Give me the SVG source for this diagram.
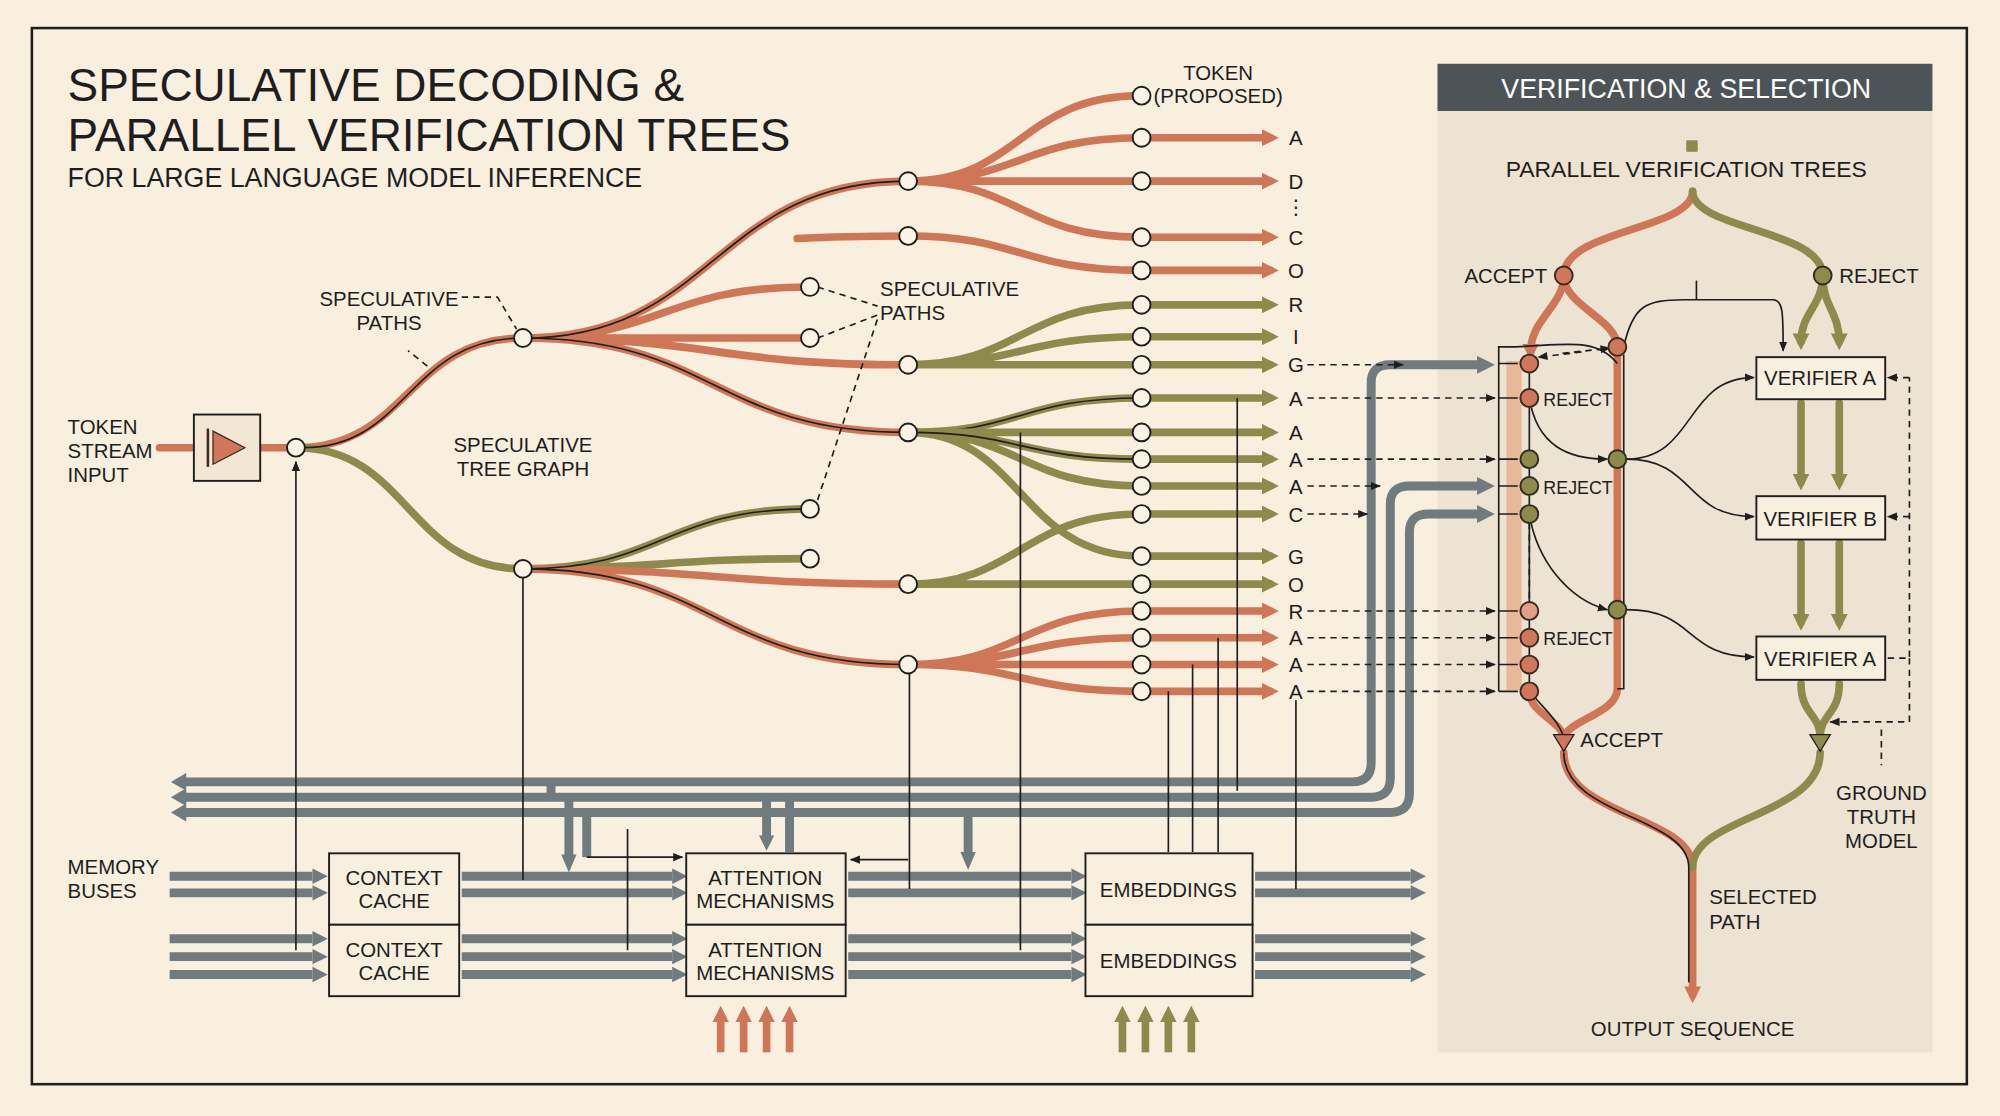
<svg xmlns="http://www.w3.org/2000/svg" width="2000" height="1116" viewBox="0 0 2000 1116">
<defs>
<style>
text{font-family:"Liberation Sans","DejaVu Sans",sans-serif;fill:#1e1e1e}
.t{font-size:16px}
.o{fill:none;stroke:#cf7657;stroke-width:6;stroke-linecap:round}
.g{fill:none;stroke:#8e8a4c;stroke-width:6;stroke-linecap:round}
.k{fill:none;stroke:#1e1e1e;stroke-width:1.3}
.d{fill:none;stroke:#1e1e1e;stroke-width:1.3;stroke-dasharray:5 4}
.b{fill:none;stroke:#6f7b7f;stroke-width:7}
.n{fill:#fbf4e6;stroke:#1e1e1e;stroke-width:1.5}
.no{fill:#d0765a;stroke:#3a2a20;stroke-width:1.5}
.ng{fill:#8e8a4c;stroke:#2e2e20;stroke-width:1.5}
.box{fill:#f8efdf;stroke:#1e1e1e;stroke-width:1.5}
.mo{marker-end:url(#ao)}
.mg{marker-end:url(#ag)}
.mk{marker-end:url(#ak)}
</style>
<marker id="ao" viewBox="0 0 10 10" refX="5" refY="5" markerWidth="2.2" markerHeight="2.2" orient="auto"><path d="M0,0L10,5L0,10z" fill="#cf7657"/></marker>
<marker id="ag" viewBox="0 0 10 10" refX="5" refY="5" markerWidth="2.2" markerHeight="2.2" orient="auto"><path d="M0,0L10,5L0,10z" fill="#8e8a4c"/></marker>
<marker id="ab" viewBox="0 0 10 10" refX="5" refY="5" markerWidth="2" markerHeight="2" orient="auto"><path d="M0,0L10,5L0,10z" fill="#6f7b7f"/></marker>
<marker id="ak" viewBox="0 0 10 10" refX="9" refY="5" markerWidth="8" markerHeight="8" orient="auto" markerUnits="userSpaceOnUse"><path d="M0,1L10,5L0,9z" fill="#1e1e1e"/></marker>
</defs>
<rect width="2000" height="1116" fill="#f8efdf"/>
<g transform="scale(1.27551)">
<rect x="25" y="22" width="1517" height="828" fill="none" stroke="#1e1e1e" stroke-width="2"/>
<g id="title">
<text x="53" y="79" style="font-size:36px;font-weight:500">SPECULATIVE DECODING &amp;</text>
<text x="53" y="118" style="font-size:36px;font-weight:500">PARALLEL VERIFICATION TREES</text>
<text x="53" y="147" style="font-size:21px">FOR LARGE LANGUAGE MODEL INFERENCE</text>
</g>
<g id="panel">
<rect x="1127" y="50" width="388" height="775" fill="#ece3d2"/>
<rect x="1127" y="50" width="388" height="37" fill="#4d5457"/>
<text x="1322" y="77" text-anchor="middle" style="font-size:21px;fill:#fff">VERIFICATION &amp; SELECTION</text>
<rect x="1322" y="110" width="9" height="9" fill="#8e8a4c"/>
<text x="1322" y="139" text-anchor="middle" style="font-size:18px">PARALLEL VERIFICATION TREES</text>
</g>
<g id="connectors">
<path class="b" d="M140,613H1060Q1075,613 1075,598V300Q1075,286 1090,286H1165" marker-end="url(#ab)"/>
<path class="b" d="M140,625H1075Q1090,625 1090,610V395Q1090,381 1105,381H1165" marker-end="url(#ab)"/>
<path class="b" d="M140,637H1090Q1105,637 1105,622V417Q1105,403 1120,403H1165" marker-end="url(#ab)"/>
<path d="M146,606L134,613L146,620M146,618L134,625L146,632M146,630L134,637L146,644" fill="#6f7b7f"/>
<path class="b" d="M446,625V672M601,625V658M619,625V668M759,637V672" stroke-width="5"/>
<path class="b" d="M432,614V625M460,637V672" stroke-width="3"/>
<path d="M440,670L446,684L452,670zM595,655L601,667L607,655zM753,668L759,682L765,668z" fill="#6f7b7f"/>
<g class="b" stroke-width="7">
<path d="M133,687H245M133,700H245M133,736H245M133,750H245M133,764H245"/>
<path d="M362,687H527M362,700H527M362,736H527M362,750H527M362,764H527"/>
<path d="M665,687H840M665,700H840M665,736H840M665,750H840M665,764H840"/>
<path d="M984,687H1106M984,700H1106M984,736H1106M984,750H1106M984,764H1106"/>
</g>
<g fill="#6f7b7f">
<path d="M245,681L257,687L245,693zM245,694L257,700L245,706zM245,730L257,736L245,742zM245,744L257,750L245,756zM245,758L257,764L245,770z"/>
<path d="M527,681L539,687L527,693zM527,694L539,700L527,706zM527,730L539,736L527,742zM527,744L539,750L527,756zM527,758L539,764L527,770z"/>
<path d="M840,681L852,687L840,693zM840,694L852,700L840,706zM840,730L852,736L840,742zM840,744L852,750L840,756zM840,758L852,764L840,770z"/>
<path d="M1106,681L1118,687L1106,693zM1106,694L1118,700L1106,706zM1106,730L1118,736L1106,742zM1106,744L1118,750L1106,756zM1106,758L1118,764L1106,770z"/>
</g>
<g stroke="#cf7657" stroke-width="6" class="mo"><path d="M565,825V795"/><path d="M583,825V795"/><path d="M601,825V795"/><path d="M619,825V795"/></g>
<g stroke="#8e8a4c" stroke-width="6" class="mg"><path d="M880,825V795"/><path d="M898,825V795"/><path d="M916,825V795"/><path d="M934,825V795"/></g>
<path class="o" d="M125,351H150M204,351H232" stroke-width="8"/>
<path class="o" d="M232,351C320,351 320,265 410,265"/>
<path class="g" d="M232,351C320,351 320,446 410,446"/>
<path class="k" d="M238,351C320,351 320,265 410,265"/>
<path class="o" d="M410,265C520,265 520,225 635,225M410,265H635M410,265C560,265 560,142 712,142M410,265C560,265 560,286 712,286M410,265C560,265 560,339 712,339"/>
<path class="k" d="M410,265C560,265 560,142 712,142M410,265C560,265 560,339 712,339"/>
<path class="g" d="M410,446C520,446 520,399 635,399M410,446C520,446 520,438 635,438"/>
<path class="o" d="M410,446C560,446 560,458 712,458M410,446C560,446 560,521 712,521"/>
<path class="k" d="M410,446C520,446 520,399 635,399M410,446C560,446 560,521 712,521"/>
<path class="o" d="M625,187C660,185 690,185 712,185"/>
<path class="o" d="M712,142C800,142 800,75 895,75M712,142C800,142 800,108 895,108M712,142H895M712,142C800,142 800,186 895,186M712,185C800,185 800,212 895,212"/>
<path class="g" d="M712,286C800,286 800,239 895,239M712,286C800,286 800,264 895,264M712,286H895M712,339C800,339 800,312 895,312"/>
<path class="k" d="M712,339C800,339 800,312 895,312"/>
<path class="g" d="M712,339H895M712,339C800,339 800,360 895,360M712,339C800,339 800,381 895,381M712,339C800,339 800,436 895,436M712,458C800,458 800,403 895,403M712,458H895"/>
<path class="k" d="M712,339C800,339 800,360 895,360"/>
<path class="o" d="M712,521C800,521 800,479 895,479M712,521C800,521 800,500 895,500M712,521H895M712,521C800,521 800,542 895,542"/>
<g class="o mo"><path d="M895,108H996"/><path d="M895,142H996"/><path d="M895,186H996"/><path d="M895,212H996"/><path d="M895,479H996"/><path d="M895,500H996"/><path d="M895,521H996"/><path d="M895,542H996"/></g>
<g class="g mg"><path d="M895,239H996"/><path d="M895,264H996"/><path d="M895,286H996"/><path d="M895,312H996"/><path d="M895,339H996"/><path d="M895,360H996"/><path d="M895,381H996"/><path d="M895,403H996"/><path d="M895,436H996"/><path d="M895,458H996"/></g>
<path class="k mk" d="M232,745V362"/>
<path class="k" d="M410,453V690M713,528V697M800,339V745M970,312V620M1016,549V697M916,542V668M935,521V668M955,500V668M492,650V745"/>
<path class="k mk" d="M460,672H535"/>
<path class="k mk" d="M712,674H667"/>
<path class="d" d="M362,233L390,233L405,258M335,287L320,275"/>
<path class="d" d="M641,225L688,240M641,265L688,247M641,392L688,250"/>
<g class="d mk"><path d="M1025,286H1100"/><path d="M1025,312H1172"/><path d="M1025,360H1172"/><path d="M1025,381H1082"/><path d="M1025,403H1072"/><path d="M1025,479H1172"/><path d="M1025,500H1172"/><path d="M1025,521H1172"/><path d="M1025,542H1172"/></g>
<path class="o" d="M1327,150C1327,180 1226,180 1226,216" stroke-width="7"/>
<path class="g" d="M1327,150C1327,180 1429,180 1429,216" stroke-width="7"/>
<rect x="1181" y="283" width="12" height="258" fill="#e8b89a"/>
<path class="o mo" d="M1226,216C1226,240 1200,250 1200,276"/>
<path class="o" d="M1226,216C1226,240 1268,250 1268,272V540C1268,560 1226,565 1226,580M1199,542C1199,560 1226,565 1226,580"/>
<path class="k" d="M1199,542C1210,555 1222,565 1226,578"/>
<path class="g mg" d="M1429,216C1429,240 1412,245 1412,268"/>
<path class="g mg" d="M1429,216C1429,240 1442,245 1442,268"/>
<g class="g mg"><path d="M1412,316V378"/><path d="M1442,316V378"/><path d="M1412,426V488"/><path d="M1442,426V488"/></g>
<path class="g" d="M1412,536C1412,560 1427,560 1427,578M1442,536C1442,560 1427,560 1427,578"/>
<path class="o mo" d="M1226,590C1226,640 1327,640 1327,680V780" stroke-width="7"/>
<path class="g" d="M1427,590C1427,640 1327,640 1327,680" stroke-width="7"/>
<path class="k" d="M1226,590C1226,640 1324,640 1324,680V770"/>
<path class="k" d="M1175,542V272H1181C1220,272 1250,262 1268,285M1199,285V542M1273,278V540H1268"/>
<path class="k" d="M1175,285H1190M1175,312H1190M1175,360H1190M1175,381H1190M1175,403H1190M1175,479H1190M1175,500H1190M1175,521H1190M1175,542H1190"/>
<path class="d mk" d="M1240,276L1206,280"/>
<path class="d mk" d="M1225,277L1262,273"/>
<path class="k mk" d="M1199,312C1205,350 1230,360 1260,360"/>
<path class="k mk" d="M1199,403C1205,440 1230,470 1260,478"/>
<path class="d" d="M1199,410V472"/>
<path class="k mk" d="M1273,272C1280,240 1290,235 1320,235H1390C1398,235 1398,245 1398,275"/>
<path class="k" d="M1330,235V220"/>
<path class="k mk" d="M1275,360C1330,360 1320,296 1375,296"/>
<path class="k mk" d="M1275,360C1330,360 1320,405 1375,405"/>
<path class="k mk" d="M1275,478C1330,478 1320,515 1375,515"/>
<path class="d" d="M1480,516H1497V296"/>
<path class="d mk" d="M1497,296H1480"/>
<path class="d mk" d="M1497,405H1480"/>
<path class="d mk" d="M1497,516V566H1435"/>
<path class="d" d="M1475,572V600"/>
</g>
<g id="input"><rect x="152" y="325" width="52" height="52" fill="#f3e6d2" stroke="#1e1e1e" stroke-width="1.5"/><path d="M167,338L192,351L167,364z" fill="#d0765a" stroke="#3a2a20"/><path d="M163,336V366" stroke="#3a2a20" stroke-width="2"/></g>
<g id="nodes">
<circle class="n" cx="232" cy="351" r="7"/><circle class="n" cx="410" cy="265" r="7"/><circle class="n" cx="410" cy="446" r="7"/>
<circle class="n" cx="635" cy="225" r="7"/><circle class="n" cx="635" cy="265" r="7"/><circle class="n" cx="635" cy="399" r="7"/><circle class="n" cx="635" cy="438" r="7"/>
<circle class="n" cx="712" cy="142" r="7"/><circle class="n" cx="712" cy="185" r="7"/><circle class="n" cx="712" cy="286" r="7"/><circle class="n" cx="712" cy="339" r="7"/><circle class="n" cx="712" cy="458" r="7"/><circle class="n" cx="712" cy="521" r="7"/>
<g><circle class="n" cx="895" cy="75" r="7"/><circle class="n" cx="895" cy="108" r="7"/><circle class="n" cx="895" cy="142" r="7"/><circle class="n" cx="895" cy="186" r="7"/><circle class="n" cx="895" cy="212" r="7"/><circle class="n" cx="895" cy="239" r="7"/><circle class="n" cx="895" cy="264" r="7"/><circle class="n" cx="895" cy="286" r="7"/><circle class="n" cx="895" cy="312" r="7"/><circle class="n" cx="895" cy="339" r="7"/><circle class="n" cx="895" cy="360" r="7"/><circle class="n" cx="895" cy="381" r="7"/><circle class="n" cx="895" cy="403" r="7"/><circle class="n" cx="895" cy="436" r="7"/><circle class="n" cx="895" cy="458" r="7"/><circle class="n" cx="895" cy="479" r="7"/><circle class="n" cx="895" cy="500" r="7"/><circle class="n" cx="895" cy="521" r="7"/><circle class="n" cx="895" cy="542" r="7"/></g>
<circle class="no" cx="1226" cy="216" r="7"/><circle class="ng" cx="1429" cy="216" r="7"/>
<circle class="no" cx="1199" cy="285" r="7"/><circle class="no" cx="1199" cy="312" r="7"/><circle class="ng" cx="1199" cy="360" r="7"/><circle class="ng" cx="1199" cy="381" r="7"/><circle class="ng" cx="1199" cy="403" r="7"/><circle cx="1199" cy="479" r="7" fill="#e0a08a" stroke="#3a2a20" stroke-width="1.5"/><circle class="no" cx="1199" cy="500" r="7"/><circle class="no" cx="1199" cy="521" r="7"/><circle class="no" cx="1199" cy="542" r="7"/>
<circle class="no" cx="1268" cy="272" r="7"/><circle class="ng" cx="1268" cy="360" r="7"/><circle class="ng" cx="1268" cy="478" r="7"/>
<path d="M1218,576H1234L1226,589z" fill="#d0765a" stroke="#1e1e1e"/><path d="M1419,576H1435L1427,589z" fill="#8e8a4c" stroke="#1e1e1e"/>
</g>
<g id="verifiers">
<rect class="box" x="1377" y="280" width="101" height="33"/><text class="t" x="1427" y="302" text-anchor="middle">VERIFIER A</text>
<rect class="box" x="1377" y="389" width="101" height="34"/><text class="t" x="1427" y="412" text-anchor="middle">VERIFIER B</text>
<rect class="box" x="1377" y="499" width="101" height="34"/><text class="t" x="1427" y="522" text-anchor="middle">VERIFIER A</text>
</g>
<g id="blocks">
<rect class="box" x="258" y="669" width="102" height="56"/><text class="t" x="309" y="694" text-anchor="middle">CONTEXT</text><text class="t" x="309" y="712" text-anchor="middle">CACHE</text>
<rect class="box" x="258" y="725" width="102" height="56"/><text class="t" x="309" y="750" text-anchor="middle">CONTEXT</text><text class="t" x="309" y="768" text-anchor="middle">CACHE</text>
<rect class="box" x="538" y="669" width="125" height="56"/><text class="t" x="600" y="694" text-anchor="middle">ATTENTION</text><text class="t" x="600" y="712" text-anchor="middle">MECHANISMS</text>
<rect class="box" x="538" y="725" width="125" height="56"/><text class="t" x="600" y="750" text-anchor="middle">ATTENTION</text><text class="t" x="600" y="768" text-anchor="middle">MECHANISMS</text>
<rect class="box" x="851" y="669" width="131" height="56"/><text class="t" x="916" y="703" text-anchor="middle">EMBEDDINGS</text>
<rect class="box" x="851" y="725" width="131" height="56"/><text class="t" x="916" y="759" text-anchor="middle">EMBEDDINGS</text>
</g>
<g id="labels">
<text class="t" x="53" y="340">TOKEN</text><text class="t" x="53" y="359">STREAM</text><text class="t" x="53" y="378">INPUT</text>
<text class="t" x="53" y="685">MEMORY</text><text class="t" x="53" y="704">BUSES</text>
<text class="t" x="305" y="240" text-anchor="middle">SPECULATIVE</text><text class="t" x="305" y="259" text-anchor="middle">PATHS</text>
<text class="t" x="410" y="354" text-anchor="middle">SPECULATIVE</text><text class="t" x="410" y="373" text-anchor="middle">TREE GRAPH</text>
<text class="t" x="690" y="232">SPECULATIVE</text><text class="t" x="690" y="251">PATHS</text>
<text class="t" x="955" y="63" text-anchor="middle">TOKEN</text><text class="t" x="955" y="81" text-anchor="middle">(PROPOSED)</text>
<g text-anchor="middle">
<text class="t" x="1016" y="114">A</text><text class="t" x="1016" y="148">D</text><text class="t" x="1016" y="168">⋮</text><text class="t" x="1016" y="192">C</text><text class="t" x="1016" y="218">O</text><text class="t" x="1016" y="245">R</text><text class="t" x="1016" y="270">I</text><text class="t" x="1016" y="292">G</text><text class="t" x="1016" y="318">A</text><text class="t" x="1016" y="345">A</text><text class="t" x="1016" y="366">A</text><text class="t" x="1016" y="387">A</text><text class="t" x="1016" y="409">C</text><text class="t" x="1016" y="442">G</text><text class="t" x="1016" y="464">O</text><text class="t" x="1016" y="485">R</text><text class="t" x="1016" y="506">A</text><text class="t" x="1016" y="527">A</text><text class="t" x="1016" y="548">A</text>
</g>
<text class="t" x="1213" y="222" text-anchor="end">ACCEPT</text><text class="t" x="1442" y="222">REJECT</text>
<text x="1210" y="318" style="font-size:14px">REJECT</text><text x="1210" y="387" style="font-size:14px">REJECT</text><text x="1210" y="506" style="font-size:14px">REJECT</text>
<text class="t" x="1239" y="586">ACCEPT</text>
<text class="t" x="1475" y="627" text-anchor="middle">GROUND</text><text class="t" x="1475" y="646" text-anchor="middle">TRUTH</text><text class="t" x="1475" y="665" text-anchor="middle">MODEL</text>
<text class="t" x="1340" y="709">SELECTED</text><text class="t" x="1340" y="728">PATH</text>
<text class="t" x="1327" y="812" text-anchor="middle">OUTPUT SEQUENCE</text>
</g>
</g>
</svg>
